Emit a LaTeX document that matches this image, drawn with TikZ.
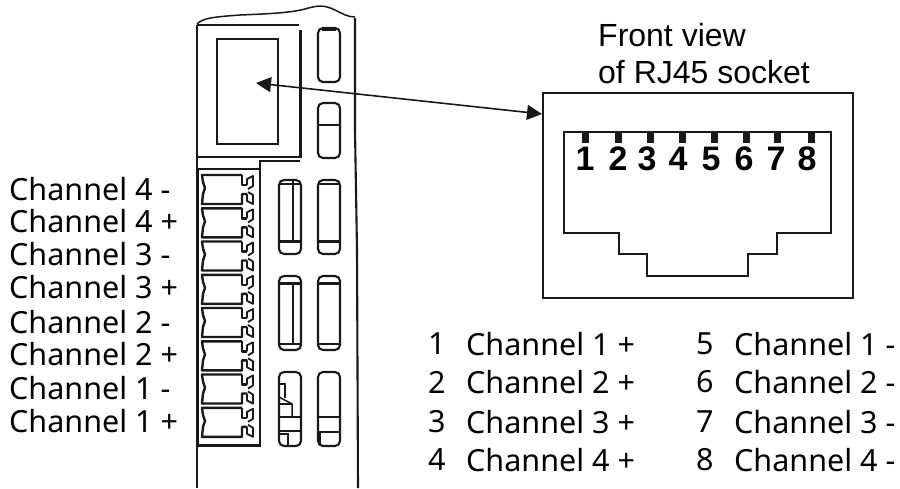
\documentclass[tikz,border=0pt]{standalone}
\usepackage{fontspec}
\setmainfont{Liberation Sans}
\newfontfamily\tahomaish{Noto Sans}
\usetikzlibrary{arrows.meta}
\tikzset{
  thinline/.style={line width=1.5pt,black!90},
  thickline/.style={line width=3pt,black!90},
  thicksm/.style={line width=2.1pt,black!90},
  blockline/.style={line width=2.4pt,black!90,line join=round},
  tabline/.style={line width=1.8pt,black!90,line join=round},
  labeltext/.style={anchor=west,inner sep=0pt,font=\tahomaish\fontsize{30.5}{32}\selectfont},
  arialtext/.style={anchor=west,inner sep=0pt,font=\fontsize{32}{34}\selectfont},
  digit/.style={inner sep=0pt,font=\bfseries\fontsize{34}{34}\selectfont},
  pinmark/.style={fill=black!90,draw=none},
  slotbox/.style={thicksm,rounded corners=5pt},
}
\newcommand{\termblock}[1]{%
  \begin{scope}[yshift=-#1pt]
    \draw[blockline] (242,175) -- (202,175) -- (203,182) -- (205,188) -- (203,194) -- (202,204) -- (242,204) -- (242,194) -- (247,194);
    \draw[blockline] (242,175) -- (242,185) -- (247,185);
    \draw[tabline] (247,185) -- (247,179) -- (253,176) -- (253,186) -- (248,189);
    \draw[tabline] (248,192) -- (253,195) -- (253,204) -- (247,201) -- (247,194);
  \end{scope}}
\begin{document}
\begin{tikzpicture}[x=1pt,y=-1pt]
\useasboundingbox (0,0) rectangle (900,488);
% housing
\draw[thinline] (197,24) .. controls (203,18) and (213,17) .. (240,15) .. controls (265,14) and (290,13) .. (305,9) .. controls (318,5) and (325,5) .. (335,10) .. controls (343,14) and (348,17) .. (355,17);
\draw[thicksm] (197,25) -- (197,488);
\draw[thicksm] (355,18) -- (355,130) -- (357,250) -- (358,488);
\draw[thicksm] (197,25) -- (299,25);
\draw[thickline] (300,30) -- (300,158);
\draw[thinline] (197,157) -- (300,157);
\draw[thicksm] (300,161) -- (260,161) -- (260,445);
\draw[thicksm] (197,169) -- (260,169);
\draw[thicksm] (217,39) rectangle (278,144);
\draw[thickline] (198,445) -- (261,445);
\draw[thickline] (197,169) -- (197,445);
% top slots
\draw[slotbox] (318,28) rectangle (340,82);
\draw[thickline] (322,29) -- (336,29);
\draw[slotbox] (318,103) rectangle (340,158);
\draw[thinline] (318,125) -- (340,125);
% middle slots
\draw[slotbox] (279,180) rectangle (301,254);
\draw[thinline] (279,184) -- (301,184);
\draw[thicksm] (293,180) -- (293,241);
\draw[thickline] (279,241) -- (301,241);
\draw[slotbox] (318,180) rectangle (340,254);
\draw[thinline] (318,184) -- (340,184);
\draw[thickline] (318,241) -- (340,241);
\draw[slotbox] (279,276) rectangle (301,350);
\draw[thickline] (279,283) -- (301,283);
\draw[thicksm] (293,283) -- (293,344);
\draw[thinline] (279,344) -- (301,344);
\draw[slotbox] (318,276) rectangle (340,350);
\draw[thickline] (318,283) -- (340,283);
\draw[thinline] (318,344) -- (340,344);
% bottom slots
\draw[slotbox] (279,372) rectangle (301,446);
\draw[thinline] (279,384) -- (285,384) -- (285,398);
\draw[thinline] (279,397) -- (292,404) -- (292,417);
\draw[thinline] (279,404) -- (292,404);
\draw[thinline] (279,417) -- (301,417);
\draw[thinline] (279,431) -- (301,431);
\draw[thinline] (279,434) -- (288,434);
\draw[thicksm] (288,433) -- (288,446);
\draw[slotbox] (318,372) rectangle (340,446);
\draw[thinline] (318,417) -- (340,417);
\draw[thicksm] (318,432) -- (340,432);
\draw[thicksm] (320,432) -- (320,445);
% terminals
\termblock{0}\termblock{33.3}\termblock{66.5}\termblock{99.8}\termblock{133}\termblock{166.3}\termblock{199.5}\termblock{232.8}
% socket
\draw[line width=1.8pt,black!90] (543,93) rectangle (853,298);
\draw[thinline,line join=miter] (564,132) -- (831,132) -- (831,233) -- (777,233) -- (777,254) -- (748,254) -- (748,276) -- (647,276) -- (647,254) -- (619,254) -- (619,233) -- (564,233) -- cycle;
\foreach \x in {585,618,650,682,714,746,777,811}
  \fill[pinmark] (\x-3.5,132) rectangle (\x+3.5,143);
\node[digit] (d1) at (585,159) {1};
\node[digit] (d2) at (618,159) {2};
\node[digit] (d3) at (647,159) {3};
\node[digit] (d4) at (678,159) {4};
\node[digit] (d5) at (711,159) {5};
\node[digit] (d6) at (744,159) {6};
\node[digit] (d7) at (776,159) {7};
\node[digit] (d8) at (807,159) {8};
% arrow
\coordinate (pa) at (256,83);
\coordinate (pb) at (542,114);
\draw[line width=1.6pt,black!90,{Triangle[length=15pt,width=15pt]}-{Triangle[length=15pt,width=15pt]}] (pa) -- (pb);
% texts
\node[arialtext] (fv1) at (598,35) {Front view};
\node[arialtext] (fv2) at (598,72) {of RJ45 socket};
\node[labeltext] (l1) at (9,189) {Channel 4 -};
\node[labeltext] (l2) at (9,221) {Channel 4 +};
\node[labeltext] (l3) at (9,254) {Channel 3 -};
\node[labeltext] (l4) at (9,287) {Channel 3 +};
\node[labeltext] (l5) at (9,322) {Channel 2 -};
\node[labeltext] (l6) at (9,354) {Channel 2 +};
\node[labeltext] (l7) at (9,388) {Channel 1 -};
\node[labeltext] (l8) at (9,421) {Channel 1 +};
\node[labeltext] (a1) at (428,344) {1};
\node[labeltext] (a2) at (428,382) {2};
\node[labeltext] (a3) at (428,422) {3};
\node[labeltext] (a4) at (428,460) {4};
\node[labeltext] (b1) at (466,344) {Channel 1 +};
\node[labeltext] (b2) at (466,382) {Channel 2 +};
\node[labeltext] (b3) at (466,422) {Channel 3 +};
\node[labeltext] (b4) at (466,460) {Channel 4 +};
\node[labeltext] (c1) at (696,344) {5};
\node[labeltext] (c2) at (696,382) {6};
\node[labeltext] (c3) at (696,422) {7};
\node[labeltext] (c4) at (696,460) {8};
\node[labeltext] (e1) at (734,344) {Channel 1 -};
\node[labeltext] (e2) at (734,382) {Channel 2 -};
\node[labeltext] (e3) at (734,422) {Channel 3 -};
\node[labeltext] (e4) at (734,460) {Channel 4 -};
\end{tikzpicture}
\end{document}
